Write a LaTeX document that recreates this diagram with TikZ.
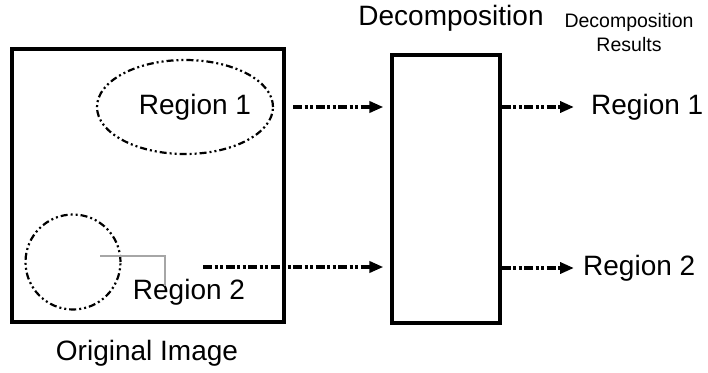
\documentclass[tikz,border=0pt]{standalone}
\usepackage{fontspec}
\setmainfont{Liberation Sans}
\usetikzlibrary{arrows.meta,shapes.geometric}
\begin{document}
\begin{tikzpicture}[x=1pt,y=-1pt,
  frame/.style={draw,line width=3.2pt,rectangle,inner sep=0pt},
  region/.style={draw,line width=2.2pt,
    dash pattern=on 7pt off 3pt on 2pt off 3pt on 2pt off 3pt},
  flow/.style={line width=3.6pt,
    dash pattern=on 9pt off 2.5pt on 3pt off 2.5pt on 3pt off 2.5pt},
  tip/.style={-{Triangle[length=14pt,width=11pt]}},
  big/.style={font=\fontsize{28}{30}\selectfont,inner sep=0pt},
  small/.style={font=\fontsize{19.5}{28}\selectfont,inner sep=0pt,align=center}]
  \useasboundingbox (0,0) rectangle (708,372);

  % input image with its two regions
  \node[frame,minimum width=272pt,minimum height=273pt] (orig) at (148,185.5) {};
  \node[region,ellipse,minimum width=176pt,minimum height=94pt,inner sep=0pt] (reg1) at (185,107) {};
  \node[big] (reg1txt) at (195,107) {Region 1};
  \node[region,circle,minimum size=95pt,inner sep=0pt] (reg2) at (73,262) {};
  \node[big] (reg2txt) at (189,292) {Region 2};
  \coordinate (lead) at (100,256);
  \draw[gray!70,line width=1.4pt] (lead) -| ([yshift=-7pt]reg2txt.north -| 165,0);
  \node[big] (origtxt) at (147,353) {Original Image};

  % decomposition stage
  \node[frame,minimum width=108pt,minimum height=268pt] (decomp) at (446,189) {};
  \node[big] (decomptxt) at (451,18) {Decomposition};
  \node[small] (restxt) at (629,33) {Decomposition\\[-4pt]Results};

  % outputs
  \node[big,anchor=west] (out1) at (591,107) {Region 1};
  \node[big,anchor=west] (out2) at (583,268) {Region 2};

  % connectors
  \coordinate (in1) at (293,107);
  \coordinate (in2) at (203,267);
  \draw[flow,tip,shorten >=7pt] (in1) -- (in1 -| decomp.west);
  \draw[flow,tip,shorten >=7pt] (in2) -- (in2 -| decomp.west);
  \draw[flow,tip,shorten >=17pt] (decomp.east |- out1) -- (out1.west);
  \draw[flow,tip,shorten >=9pt] (decomp.east |- out2) -- (out2.west);
\end{tikzpicture}
\end{document}
